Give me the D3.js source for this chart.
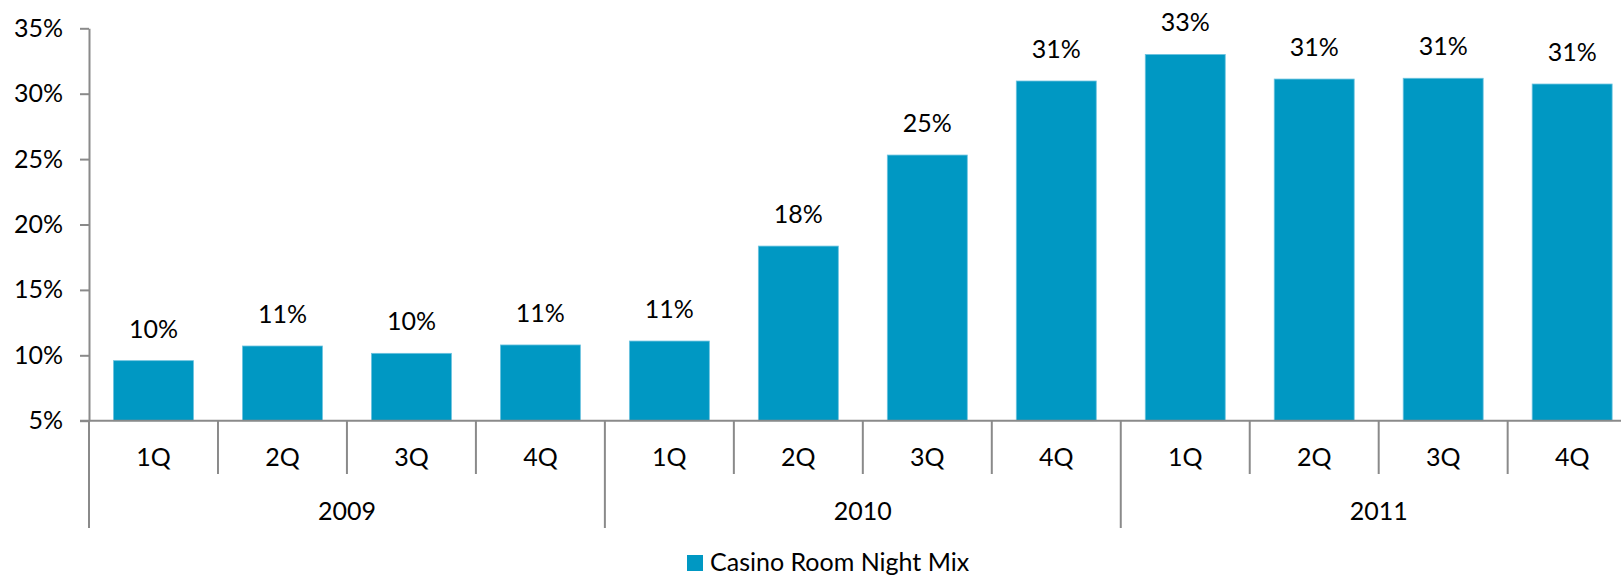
<!DOCTYPE html>
<html>
<head>
<meta charset="utf-8">
<script src="https://cdn.jsdelivr.net/npm/d3@7"></script>
<style>
  html, body { margin: 0; padding: 0; background: #fff; }
  svg { display: block; }
  text { font-family: Lato, "Open Sans", sans-serif; fill: #000; }
</style>
</head>
<body>
<svg id="chart" width="1621" height="577"></svg>
<script>
// ---- data ----
const quarters = ["1Q","2Q","3Q","4Q","1Q","2Q","3Q","4Q","1Q","2Q","3Q","4Q"];
const years = ["2009","2010","2011"];
const values = [9.59, 10.71, 10.15, 10.79, 11.09, 18.35, 25.31, 30.97, 33.0, 31.12, 31.18, 30.74];
const yTicks = [5, 10, 15, 20, 25, 30, 35];
const seriesName = "Casino Room Night Mix";

// ---- layout ----
const W = 1621, H = 577;
const x0 = 89, band = 128.97;
const yBottom = 420.7, yTop = 28.3;
const barColor = "#0098C3";
const axisColor = "#8a8a8a";
const fontSize = 25;

const svg = d3.select("#chart");

const x = d3.scaleBand()
  .domain(d3.range(quarters.length))
  .range([x0, x0 + band * quarters.length])
  .padding(0);
const y = d3.scaleLinear().domain([5, 35]).range([yBottom, yTop]);

const barW = x.bandwidth() * 0.62;

// bars
svg.append("g").selectAll("rect")
  .data(values)
  .join("rect")
  .attr("x", (d, i) => x(i) + (x.bandwidth() - barW) / 2)
  .attr("y", d => y(d))
  .attr("width", barW)
  .attr("height", d => y(5) - y(d))
  .attr("fill", barColor)
  .attr("stroke", "#6cc3df")
  .attr("stroke-width", 0.8);

// data labels
svg.append("g").selectAll("text")
  .data(values)
  .join("text")
  .attr("x", (d, i) => x(i) + x.bandwidth() / 2)
  .attr("y", d => y(d) - 23)
  .attr("text-anchor", "middle")
  .attr("font-size", fontSize)
  .text(d => Math.round(d) + "%");

// y axis
const yAxis = d3.axisLeft(y)
  .tickValues(yTicks)
  .tickSize(9)
  .tickSizeOuter(0)
  .tickPadding(17)
  .tickFormat(d => d + "%");
const gy = svg.append("g").attr("transform", `translate(${x0},0)`).call(yAxis);
gy.select(".domain").attr("stroke", axisColor).attr("stroke-width", 2);
gy.selectAll(".tick line").attr("stroke", axisColor).attr("stroke-width", 2);
gy.selectAll(".tick text")
  .attr("font-size", fontSize)
  .attr("font-family", "Lato, 'Open Sans', sans-serif")
  .attr("fill", "#000");

// x axis baseline
svg.append("line")
  .attr("x1", x0 - 9).attr("x2", W)
  .attr("y1", yBottom).attr("y2", yBottom)
  .attr("stroke", axisColor).attr("stroke-width", 2);

// quarter separators
const gx = svg.append("g");
d3.range(quarters.length + 1).forEach(i => {
  const xx = x0 + i * x.step();
  const isGroup = i % 4 === 0;
  gx.append("line")
    .attr("x1", xx).attr("x2", xx)
    .attr("y1", yBottom).attr("y2", isGroup ? 528 : 474)
    .attr("stroke", axisColor).attr("stroke-width", 2);
});

// quarter labels
gx.selectAll("text.q")
  .data(quarters)
  .join("text")
  .attr("class", "q")
  .attr("x", (d, i) => x(i) + x.bandwidth() / 2)
  .attr("y", 466)
  .attr("text-anchor", "middle")
  .attr("font-size", fontSize)
  .text(d => d);

// year labels
gx.selectAll("text.yr")
  .data(years)
  .join("text")
  .attr("class", "yr")
  .attr("x", (d, i) => x0 + (i * 4 + 2) * x.step())
  .attr("y", 520)
  .attr("text-anchor", "middle")
  .attr("font-size", fontSize)
  .text(d => d);

// legend
const lg = svg.append("g");
lg.append("rect")
  .attr("x", 687).attr("y", 555)
  .attr("width", 16).attr("height", 16)
  .attr("fill", barColor);
lg.append("text")
  .attr("x", 710).attr("y", 571)
  .attr("font-size", fontSize)
  .text(seriesName);
</script>
</body>
</html>
